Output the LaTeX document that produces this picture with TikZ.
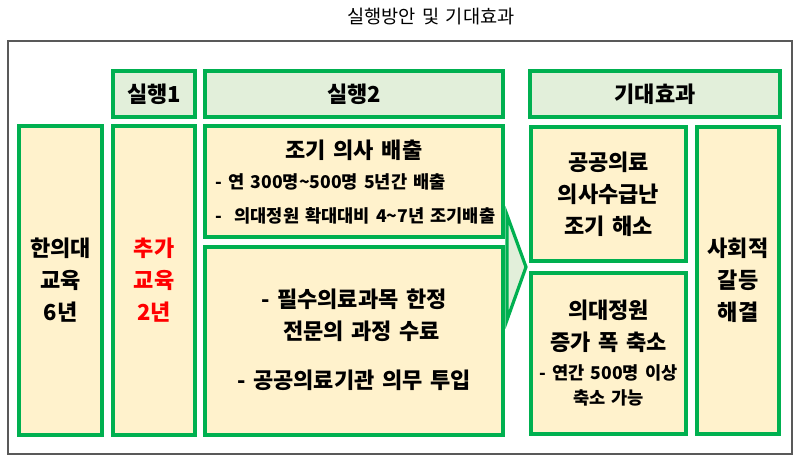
\documentclass[tikz,border=0pt]{standalone}
\usepackage{fontspec}
\setmainfont[WordSpace=1.5]{Noto Sans CJK KR}
\usetikzlibrary{positioning}

\definecolor{cellgreen}{HTML}{00B050}
\definecolor{cellyellow}{HTML}{FFF2CC}
\definecolor{headgreen}{HTML}{E2EFDA}
\definecolor{framegray}{HTML}{595959}

\newcommand{\px}[1]{#1*0.75pt}

\tikzset{
	cell/.style={draw=cellgreen, line width=2.4pt, fill=cellyellow, inner sep=0pt},
	headcell/.style={cell, fill=headgreen},
	bigtext/.style={font=\fontsize{16.5}{24}\selectfont\bfseries, align=center},
	smalltext/.style={font=\fontsize{13.2}{19}\selectfont\bfseries, align=center},
}

\begin{document}
\begin{tikzpicture}[x=0.75pt,y=-0.75pt]
	\useasboundingbox (0,0) rectangle (800,464);
	% Title and frame
	\node[font=\fontsize{14}{16}\selectfont] (title) at (431,17) {실행방안 및 기대효과};
	\draw[framegray, line width=0.9pt] (8,41) rectangle (792,454);

	% Header row
	\node[headcell, minimum width=\px{82}, minimum height=\px{46}] (run1) at (154,94) {};
	\node[headcell, minimum width=\px{298}, minimum height=\px{46}] (run2) at (354,94) {};
	\node[headcell, minimum width=\px{250}, minimum height=\px{46}] (effect) at (655,94) {};
	\node[bigtext] at (run1) {실행1};
	\node[bigtext] at (run2) {실행2};
	\node[bigtext] at (effect) {기대효과};

	% Left columns
	\node[cell, minimum width=\px{83}, minimum height=\px{309}] (oriental) at (60.5,280.5) {};
	\node[bigtext] at (oriental) {한의대\\교육\\6년};
	\node[cell, minimum width=\px{82}, minimum height=\px{309}] (extra) at (154,280.5) {};
	\node[bigtext, text=red] at (extra) {추가\\교육\\2년};

	% Step 2 boxes
	\node[cell, minimum width=\px{298}, minimum height=\px{111}] (early) at (354,181.5) {};
	\node[bigtext] (earlyhead) at (354,150) {조기 의사 배출};
	\node[smalltext, anchor=west] (earlya) at (211,182) {- 연 300명\textasciitilde500명 5년간 배출};
	\node[smalltext, anchor=west] (earlyb) at (211,216) {-\ \ 의대정원 확대대비 4\textasciitilde7년 조기배출};
	\node[cell, minimum width=\px{298}, minimum height=\px{188}] (duty) at (354,341) {};
	\node[bigtext] (dutya) at (354,315) {- 필수의료과목 한정\\\ \ 전문의 과정 수료};
	\node[bigtext] (dutyb) at (354,380) {- 공공의료기관 의무 투입};

	% Arrow
	\draw[cellgreen, line width=2.4pt, fill=headgreen, line join=miter] (507,215) -- (526,267) -- (507,320) -- cycle;

	% Expected effects
	\node[cell, minimum width=\px{155}, minimum height=\px{134}] (relief) at (608.5,194) {};
	\node[bigtext] at (relief) {공공의료\\의사수급난\\조기 해소};
	\node[cell, minimum width=\px{155}, minimum height=\px{161}] (cut) at (608.5,353.5) {};
	\node[bigtext] (cuthead) at (608.5,326) {의대정원\\증가 폭 축소};
	\node[smalltext] (cutnote) at (608.5,385.5) {- 연간 500명 이상\\축소 가능};
	\node[cell, minimum width=\px{82}, minimum height=\px{307}] (social) at (738,280.5) {};
	\node[bigtext] at (social) {사회적\\갈등\\해결};
\end{tikzpicture}
\end{document}
